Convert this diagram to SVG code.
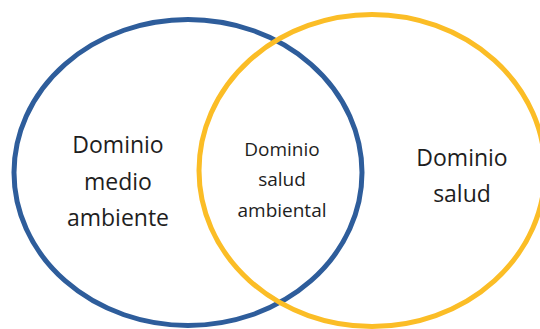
<svg xmlns="http://www.w3.org/2000/svg" width="540" height="329" viewBox="0 0 540 329">
<style>
.ring{fill:none;stroke-width:5}
.lbl{font-family:"Open Sans","Liberation Sans",sans-serif;fill:#1e1e1e;text-anchor:middle}
</style>
<rect width="540" height="329" fill="#ffffff"/>
<g id="medio-ambiente">
<ellipse class="ring" cx="188" cy="172.5" rx="174" ry="153" stroke="#2e5d9b"/>
<text class="lbl" font-size="23" x="118"><tspan x="118" y="153">Dominio</tspan><tspan x="118" y="190">medio</tspan><tspan x="118" y="226">ambiente</tspan></text>
</g>
<g id="salud">
<ellipse class="ring" cx="372" cy="170.5" rx="173" ry="156" stroke="#fbbd26"/>
<text class="lbl" font-size="23" x="462"><tspan x="462" y="166">Dominio</tspan><tspan x="462" y="202">salud</tspan></text>
</g>
<g id="salud-ambiental">
<text class="lbl" font-size="19" x="282"><tspan x="282" y="156">Dominio</tspan><tspan x="282" y="186">salud</tspan><tspan x="282" y="217">ambiental</tspan></text>
</g>
<g id="connectors"></g>
</svg>
